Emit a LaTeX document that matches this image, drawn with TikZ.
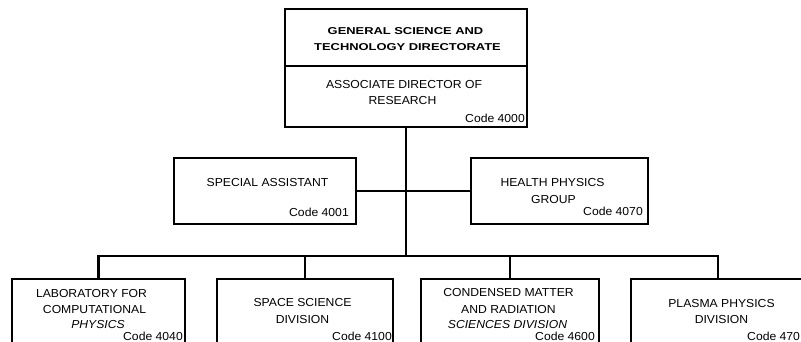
\documentclass[tikz,border=0pt]{standalone}
\usepackage{fontspec}
\setmainfont{Liberation Sans}[FakeStretch=1.05]
\newfontfamily\hdfont{Liberation Sans}[FakeStretch=1.29]
\begin{document}
\begin{tikzpicture}[x=1pt,y=-1pt,
  box/.style={draw,line width=1.3pt,inner sep=0pt,outer sep=0pt,anchor=north west},
  topbox/.style={box,line width=1.8pt},
  conn/.style={line width=2.6pt,line join=miter},
  txt/.style={anchor=base,inner sep=0pt,font=\fontsize{11.6}{16.7}\selectfont},
  itxt/.style={txt,font=\fontsize{11.6}{16.7}\selectfont\itshape},
  htxt/.style={anchor=base,inner sep=0pt,font=\hdfont\bfseries\fontsize{10}{16.7}\selectfont},
  code/.style={anchor=base east,inner sep=0pt,font=\fontsize{11.6}{16.7}\selectfont},
  codeL/.style={anchor=base west,inner sep=0pt,font=\fontsize{11.6}{16.7}\selectfont}]
\useasboundingbox (0,0) rectangle (801,342);
\clip (0,0) rectangle (801,342);
\fill[white] (0,0) rectangle (801,342);

% boxes
\node[topbox,minimum width=242pt,minimum height=57pt] (gen) at (285,9) {};
\node[topbox,minimum width=242pt,minimum height=61pt] (adr) at (285,66) {};
\node[box,minimum width=182pt,minimum height=66pt] (sa) at (174,158) {};
\node[box,minimum width=177pt,minimum height=66pt] (hp) at (471,158) {};
\node[box,minimum width=173pt,minimum height=80pt] (b1) at (12,279) {};
\node[box,minimum width=176pt,minimum height=80pt] (b2) at (217,279) {};
\node[box,minimum width=178pt,minimum height=80pt] (b3) at (421,279) {};
\node[box,minimum width=174pt,minimum height=80pt] (b4) at (631,279) {};

% texts
\node[htxt] (g1) at (405.5,34.3) {GENERAL SCIENCE AND};
\node[htxt] (g2) at (407.5,51) {TECHNOLOGY DIRECTORATE};
\node[txt] (a1) at (404,88.3) {ASSOCIATE DIRECTOR OF};
\node[txt] (a2) at (402.5,105) {RESEARCH};
\node[code] (ac) at (525,123) {Code 4000};

\node[txt] (s1) at (267.5,186.7) {SPECIAL ASSISTANT};
\node[code] (sc) at (349,216) {Code 4001};

\node[txt] (h1) at (552.5,186.7) {HEALTH PHYSICS};
\node[txt] (h2) at (553.5,203.3) {GROUP};
\node[code] (hc) at (643,215) {Code 4070};

\node[txt] (l1) at (91.5,297) {LABORATORY FOR};
\node[txt] (l2) at (94.5,313.5) {COMPUTATIONAL};
\node[itxt] (l3) at (98,328) {PHYSICS};
\node[code] (lc) at (183,340) {Code 4040};

\node[txt] (p1) at (302.5,306) {SPACE SCIENCE};
\node[txt] (p2) at (302.5,323) {DIVISION};
\node[code] (pc) at (392,340) {Code 4100};

\node[txt] (c1) at (508.5,296) {CONDENSED MATTER};
\node[txt] (c2) at (508.5,313) {AND RADIATION};
\node[itxt] (c3) at (507.5,328) {SCIENCES DIVISION};
\node[code] (cc) at (595,340) {Code 4600};

\node[txt] (m1) at (721.5,307.5) {PLASMA PHYSICS};
\node[txt] (m2) at (721.5,323.5) {DIVISION};
\node[codeL] (mc) at (747,340) {Code 470};

% connectors
\coordinate (busL) at (98,256);
\draw[conn] (adr.south) -- (adr.south |- busL);
\draw[conn] (sa.east) -- (hp.west);
\draw[conn] (b1.north) -- (b1.north |- busL) -- (b4.north |- busL) -- (b4.north);
\draw[conn] (b2.north) -- (b2.north |- busL);
\draw[conn] (b3.north) -- (b3.north |- busL);
\end{tikzpicture}
\end{document}
